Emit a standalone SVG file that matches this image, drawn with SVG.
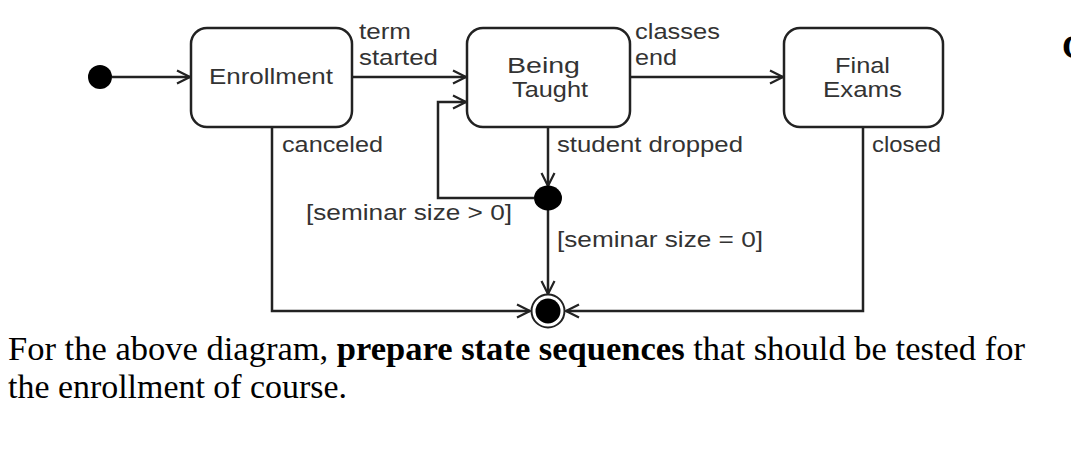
<svg xmlns="http://www.w3.org/2000/svg" width="1071" height="449" viewBox="0 0 1071 449">
<style>
.st{fill:#fff;stroke:#222;stroke-width:2.5}
.lb{font-family:"Liberation Sans",Arial,sans-serif;font-size:22px;fill:#333}
.cn{fill:none;stroke:#222;stroke-width:2.5}
.q{font-family:"Liberation Serif","Times New Roman",serif;font-size:34px;fill:#000}
</style>
<defs>
<marker id="ar" markerUnits="userSpaceOnUse" markerWidth="18" markerHeight="16" refX="14" refY="8" orient="auto">
<path d="M1,1.5 L14,8 L1,14.5" fill="none" stroke="#222" stroke-width="2.2"/>
</marker>
</defs>
<rect width="1071" height="449" fill="#fff"/>
<g id="connectors">
<path class="cn" d="M112,77 H190" marker-end="url(#ar)"/>
<path class="cn" d="M352,77 H466" marker-end="url(#ar)"/>
<path class="cn" d="M630,77 H783" marker-end="url(#ar)"/>
<path class="cn" d="M548,128 V186" marker-end="url(#ar)"/>
<path class="cn" d="M534,198 H438 V102 H466" marker-end="url(#ar)"/>
<path class="cn" d="M548,210 V294" marker-end="url(#ar)"/>
<path class="cn" d="M272,128 V311 H530" marker-end="url(#ar)"/>
<path class="cn" d="M863,128 V311 H566" marker-end="url(#ar)"/>
<text class="lb" x="359" y="39" textLength="52" lengthAdjust="spacingAndGlyphs">term</text>
<text class="lb" x="359" y="65" textLength="79" lengthAdjust="spacingAndGlyphs">started</text>
<text class="lb" x="635" y="39" textLength="85" lengthAdjust="spacingAndGlyphs">classes</text>
<text class="lb" x="635" y="65" textLength="42" lengthAdjust="spacingAndGlyphs">end</text>
<text class="lb" x="282" y="152" textLength="101" lengthAdjust="spacingAndGlyphs">canceled</text>
<text class="lb" x="557" y="152" textLength="186" lengthAdjust="spacingAndGlyphs">student dropped</text>
<text class="lb" x="872" y="152" textLength="69" lengthAdjust="spacingAndGlyphs">closed</text>
<text class="lb" x="306" y="220" textLength="206" lengthAdjust="spacingAndGlyphs">[seminar size &gt; 0]</text>
<text class="lb" x="557" y="247" textLength="206" lengthAdjust="spacingAndGlyphs">[seminar size = 0]</text>
</g>
<g id="initial"><circle cx="100" cy="77" r="12" fill="#000"/></g>
<g id="enrollment">
<rect class="st" x="191" y="28" width="161" height="99" rx="16"/>
<text class="lb" x="209" y="84" textLength="124" lengthAdjust="spacingAndGlyphs">Enrollment</text>
</g>
<g id="being-taught">
<rect class="st" x="467" y="28" width="163" height="99" rx="16"/>
<text class="lb" x="507" y="73" textLength="73" lengthAdjust="spacingAndGlyphs">Being</text>
<text class="lb" x="512" y="97" textLength="76" lengthAdjust="spacingAndGlyphs">Taught</text>
</g>
<g id="final-exams">
<rect class="st" x="784" y="28" width="159" height="99" rx="16"/>
<text class="lb" x="835" y="73" textLength="55" lengthAdjust="spacingAndGlyphs">Final</text>
<text class="lb" x="823" y="97" textLength="79" lengthAdjust="spacingAndGlyphs">Exams</text>
</g>
<g id="junction"><ellipse cx="548" cy="198" rx="14" ry="12.5" fill="#000"/></g>
<g id="final"><circle cx="548" cy="311" r="16.5" fill="#fff" stroke="#222" stroke-width="2"/><circle cx="548" cy="311" r="12.5" fill="#000"/></g>
<text class="q" x="8" y="360" textLength="1017" lengthAdjust="spacingAndGlyphs">For the above diagram, <tspan font-weight="bold">prepare state sequences</tspan> that should be tested for</text>
<text class="q" x="8" y="398" textLength="339" lengthAdjust="spacingAndGlyphs">the enrollment of course.</text>
<text class="q" x="1062" y="58" font-size="36" font-weight="bold">C</text>
</svg>
